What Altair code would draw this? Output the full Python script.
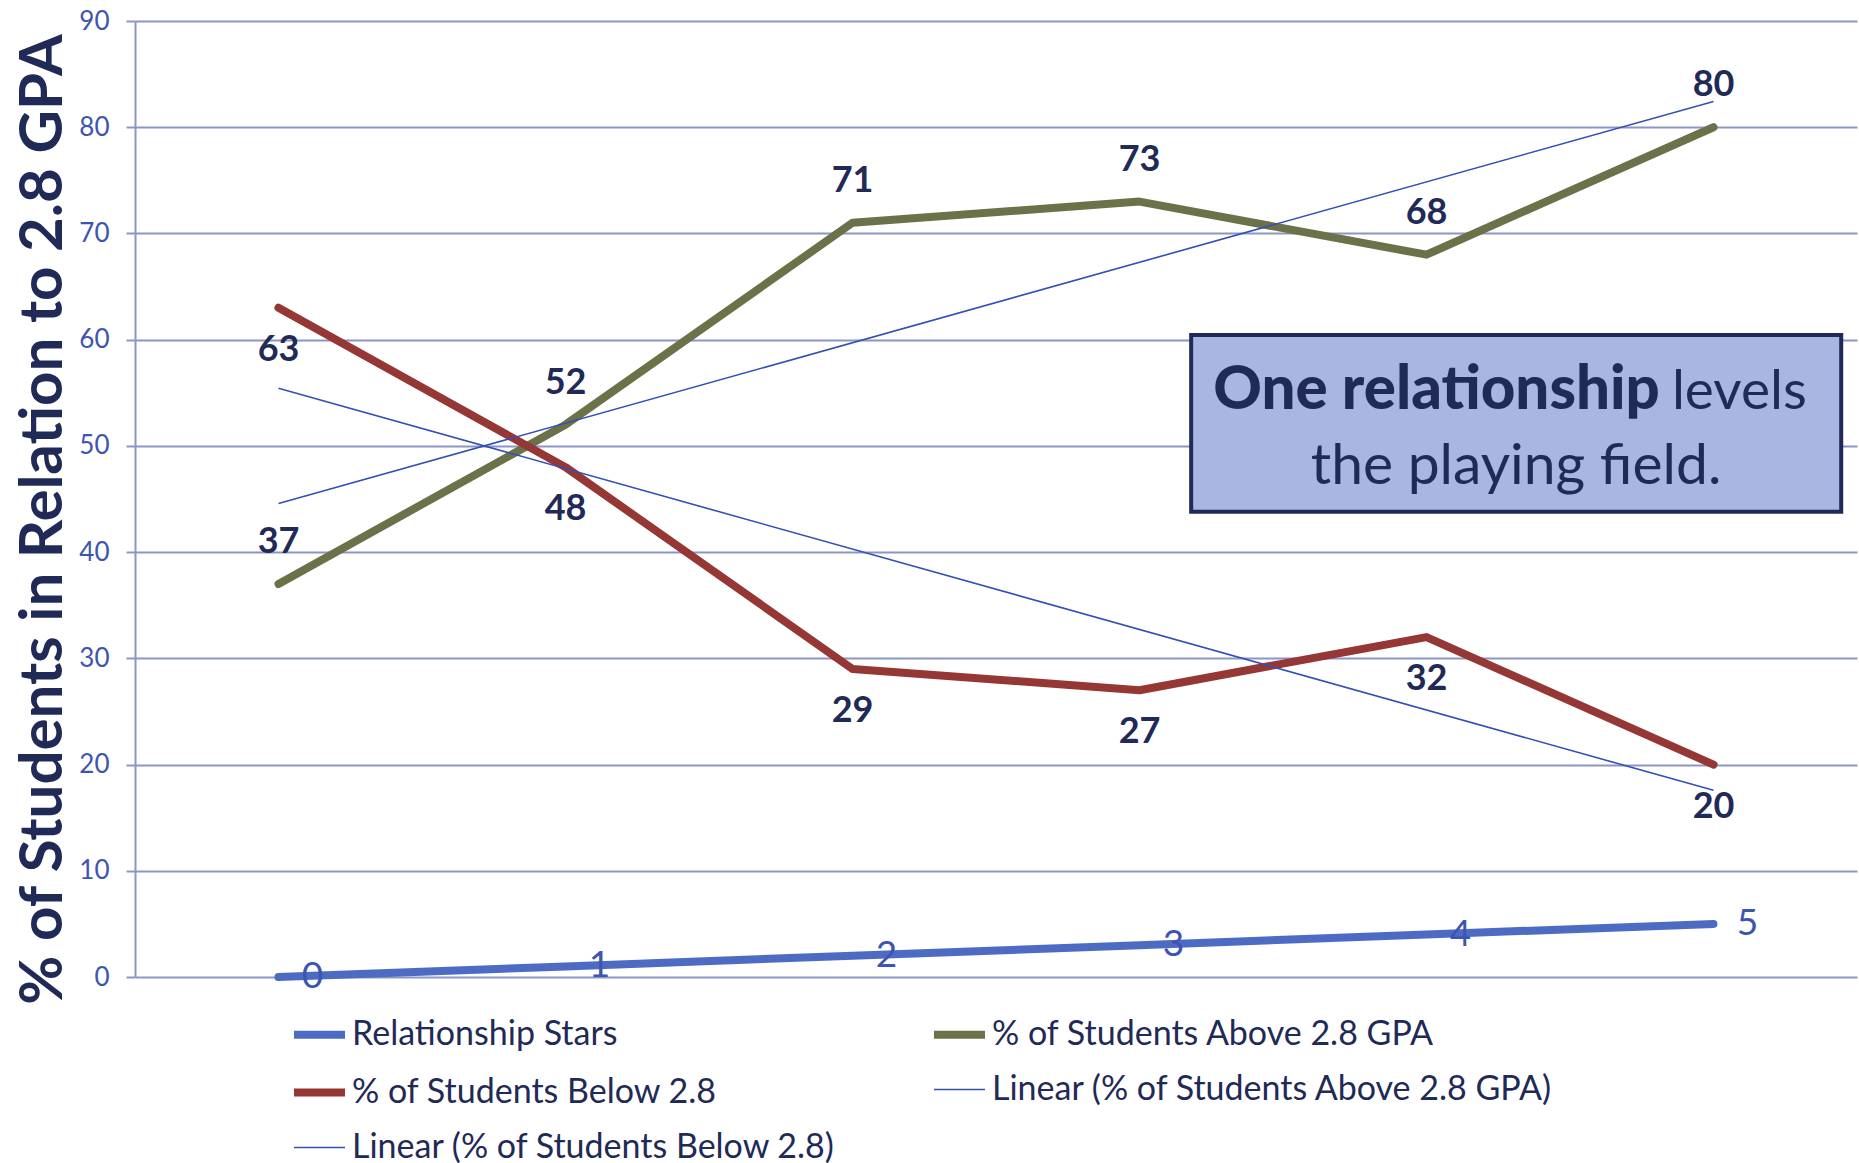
import altair as alt
import pandas as pd

# ---------------- data ----------------
x_idx = [0, 1, 2, 3, 4, 5]
stars = [0, 1, 2, 3, 4, 5]
above = [37, 52, 71, 73, 68, 80]
below = [63, 48, 29, 27, 32, 20]

S_STARS = "Relationship Stars"
S_ABOVE = "% of Students Above 2.8 GPA"
S_BELOW = "% of Students Below 2.8"
L_ABOVE = "Linear (% of Students Above 2.8 GPA)"
L_BELOW = "Linear (% of Students Below 2.8)"
series_order = [S_STARS, S_ABOVE, S_BELOW, L_ABOVE, L_BELOW]

y_ticks = [0, 10, 20, 30, 40, 50, 60, 70, 80, 90]

note_bold = "One relationship"
note_reg1 = "levels"
note_reg2 = "the playing field."

# ---------------- styles ----------------
NAVY = "#1f2a57"
BLUE = "#4d6bc2"
GREEN = "#6b7148"
RED = "#953735"
TREND = "#3350b4"
GRID = "#8c96c6"
TICKLBL = "#3d55b2"
BOXFILL = "#a9b6e1"

rows = []
for name, vals in [(S_STARS, stars), (S_ABOVE, above), (S_BELOW, below)]:
    for xi, v in zip(x_idx, vals):
        rows.append({"x": xi, "value": v, "series": name})
df = pd.DataFrame(rows)

box_df = pd.DataFrame({"x": [3.18], "x2": [5.445], "value": [43.8], "value2": [60.45]})
bold_df = pd.DataFrame({"x": [4.813], "value": [53.5], "t": [note_bold]})
reg1_df = pd.DataFrame({"x": [4.855], "value": [53.5], "t": [note_reg1]})
reg2_df = pd.DataFrame({"x": [4.312], "value": [46.4], "t": [note_reg2]})

xenc = alt.X("x:Q", scale=alt.Scale(domain=[-0.5, 5.5], nice=False, zero=False), axis=None)
yenc = alt.Y(
    "value:Q",
    scale=alt.Scale(domain=[0, 90], nice=False, zero=True),
    axis=alt.Axis(
        values=y_ticks,
        title="% of Students in Relation to 2.8 GPA",
        titleFont="Lato",
        titleFontSize=60,
        titleFontWeight="bold",
        titleColor=NAVY,
        titleX=-74,
        titleY=498,
        titleAngle=270,
        titleAlign="center",
        titleBaseline="alphabetic",
        labelFont="Lato",
        labelFontSize=26,
        labelColor=TICKLBL,
        labelPadding=17,
        tickSize=9,
        tickColor=GRID,
        tickWidth=2,
        domainColor=GRID,
        domainWidth=2,
        grid=True,
        gridColor=GRID,
        gridWidth=2,
    ),
)

leg = alt.Legend(
    title=None,
    orient="none",
    legendX=155,
    legendY=984,
    columns=2,
    direction="horizontal",
    gridAlign="all",
    symbolType="stroke",
    symbolSize=2601,
    labelFont="Lato",
    labelFontSize=34,
    labelColor=NAVY,
    labelOffset=3,
    labelLimit=1000,
    rowPadding=11,
    columnPadding=4,
    padding=0,
)

color = alt.Color(
    "series:N",
    scale=alt.Scale(domain=series_order, range=[BLUE, GREEN, RED, TREND, TREND]),
    legend=leg,
)
swidth = alt.StrokeWidth(
    "series:N",
    scale=alt.Scale(type="ordinal", domain=series_order, range=[8, 8, 8, 1.6, 1.6]),
    legend=leg,
)

base = alt.Chart(df)

lines = base.mark_line(strokeCap="round", strokeJoin="round").encode(
    x=xenc, y=yenc, color=color, strokeWidth=swidth
)

trend = (
    base.transform_filter(alt.FieldOneOfPredicate(field="series", oneOf=[S_ABOVE, S_BELOW]))
    .transform_regression("x", "value", groupby=["series"], method="linear")
    .transform_calculate(series="'Linear (' + datum.series + ')'")
    .mark_line()
    .encode(x=xenc, y=yenc, color=color, strokeWidth=swidth)
)

lbl_above = (
    base.transform_filter(alt.datum.series == S_ABOVE)
    .mark_text(dy=-42, font="Lato", fontWeight="bold", fontSize=36, color=NAVY, baseline="middle")
    .encode(x=xenc, y=yenc, text="value:Q")
)
lbl_below = (
    base.transform_filter(alt.datum.series == S_BELOW)
    .mark_text(dy=42, font="Lato", fontWeight="bold", fontSize=36, color=NAVY, baseline="middle")
    .encode(x=xenc, y=yenc, text="value:Q")
)
lbl_stars = (
    base.transform_filter(alt.datum.series == S_STARS)
    .mark_text(dx=34, font="Lato", fontSize=37, color=TICKLBL, baseline="middle", align="center")
    .encode(x=xenc, y=yenc, text="value:Q")
)

box = alt.Chart(box_df).mark_rect(fill=BOXFILL, stroke=NAVY, strokeWidth=4).encode(
    x=xenc, x2="x2:Q", y=yenc, y2="value2:Q"
)
t_bold = alt.Chart(bold_df).mark_text(
    font="Lato", fontWeight=900, fontSize=60, color=NAVY, align="right", baseline="alphabetic"
).encode(x=xenc, y=yenc, text="t:N")
t_reg1 = alt.Chart(reg1_df).mark_text(
    font="Lato", fontSize=55, color=NAVY, align="left", baseline="alphabetic"
).encode(x=xenc, y=yenc, text="t:N")
t_reg2 = alt.Chart(reg2_df).mark_text(
    font="Lato", fontSize=57, color=NAVY, align="center", baseline="alphabetic"
).encode(x=xenc, y=yenc, text="t:N")

chart = (
    alt.layer(lines, trend, lbl_above, lbl_below, lbl_stars, box, t_bold, t_reg1, t_reg2)
    .properties(
        width=1722,
        height=956,
        autosize=alt.AutoSizeParams(type="none"),
        padding={"left": 135, "top": 21, "right": 2, "bottom": 186},
        background="white",
    )
    .configure_view(stroke=None)
)

chart.save("out.html", embed_options={"renderer": "svg", "actions": False})
